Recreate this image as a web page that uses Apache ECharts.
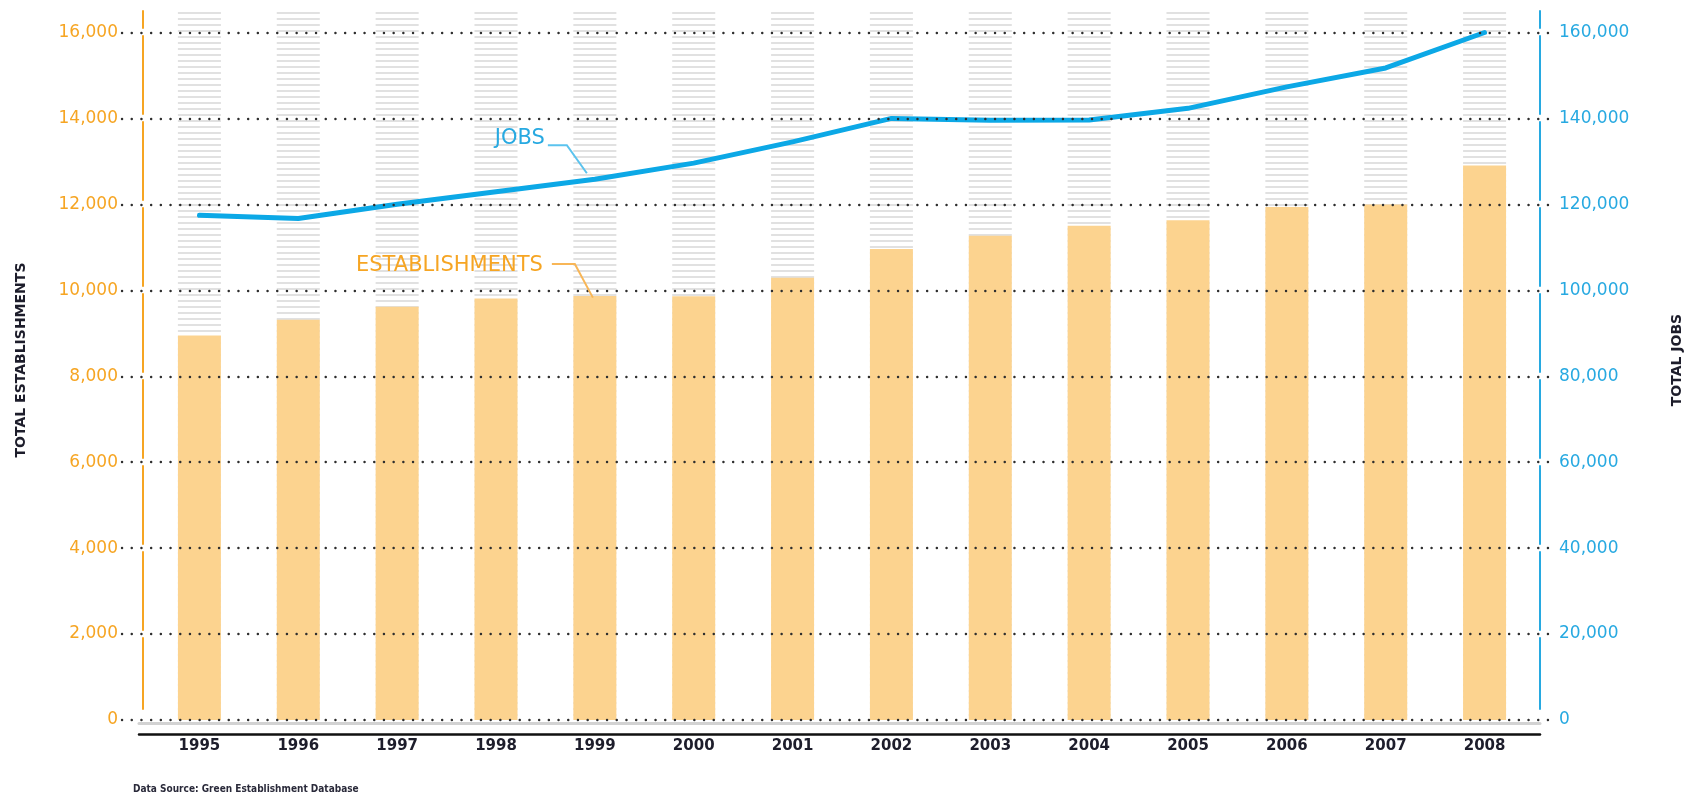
<!DOCTYPE html>
<html>
<head>
<meta charset="utf-8">
<title>Green establishments and jobs, 1995–2008</title>
<script src="https://cdn.jsdelivr.net/npm/echarts@6/dist/echarts.min.js"></script>
<style>
  html, body { margin: 0; padding: 0; background: #fff; }
  #chart { width: 1701px; height: 799px; }
</style>
</head>
<body>
<div id="chart"></div>
<script>
// values
const years = ['1995', '1996', '1997', '1998', '1999', '2000', '2001',
  '2002', '2003', '2004', '2005', '2006', '2007', '2008']
const establishments = [8950, 9315, 9615, 9810, 9865, 9860, 10295,
  10960, 11270, 11500, 11630, 11940, 12000, 12905]
const jobs = [117450, 116700, 120050, 122950, 125850, 129600, 134550,
  140000, 139550, 139650, 142350, 147350, 151750, 160000]

// axis ticks: 0..16,000 by 2,000 (left) and 0..160,000 by 20,000 (right)
const estMax = 16000
const estStep = 2000
const jobsMax = 160000
const jobsStep = 20000

const C = {
  bar: '#FCD38F',
  stripe: '#E1E1E1',
  line: '#0CA8E6',
  orange: '#F6A523',
  orangeLead: '#F8B657',
  blue: '#27A9E1',
  blueLead: '#5BC3EE',
  dots: '#2e2e2e',
  ink: '#1d1d2b'
}
const FONT = '"DejaVu Sans", sans-serif'

// plot frame: value 16,000 sits at PLOT_TOP, 0 at BASE; the striped
// columns behind the bars start a bit higher, at STRIPE_TOP
const PLOT_TOP = 32.5
const BASE = 720
const STRIPE_TOP = 10
const H = 799
const headroom = (BASE - STRIPE_TOP) / (BASE - PLOT_TOP)

function stripes() {
  const c = document.createElement('canvas')
  c.width = 8
  c.height = 6
  const g = c.getContext('2d')
  g.fillStyle = C.stripe
  g.fillRect(0, 0, 8, 2)
  return c
}

const noAxis = { axisLine: { show: false }, axisTick: { show: false }, axisLabel: { show: false }, splitLine: { show: false } }

// vertical frame lines are broken where each dotted rule crosses them
const frameDash = { type: [78, 8], dashOffset: 7, width: 2 }
const axisName = { color: C.ink, fontSize: 14, fontWeight: 'bold' }

const chart = echarts.init(document.getElementById('chart'))

chart.setOption({
  animation: false,
  backgroundColor: '#fff',
  textStyle: { fontFamily: FONT },
  title: {
    text: 'Data Source: Green Establishment Database',
    left: 128,
    top: 779,
    textStyle: { fontSize: 10, fontWeight: 'bold', color: '#2a2a3a', fontFamily: '"DejaVu Sans Condensed", sans-serif' }
  },
  grid: [
    // bars + jobs line
    { left: 150, right: 167, top: STRIPE_TOP, bottom: H - BASE, containLabel: false, outerBoundsMode: 'none' },
    // dotted rules + tick labels
    { left: 122, right: 151, top: PLOT_TOP, bottom: H - BASE, containLabel: false, outerBoundsMode: 'none' },
    // coloured frame lines, axis titles and the base rule
    { left: 139, right: 161, top: 11, bottom: 90, containLabel: false, outerBoundsMode: 'none' }
  ],
  xAxis: [
    {
      gridIndex: 0,
      type: 'category',
      data: years,
      axisLine: { show: false },
      axisTick: { show: false },
      axisLabel: { color: C.ink, fontSize: 15, fontWeight: 'bold', margin: 19 }
    },
    { gridIndex: 1, type: 'value', min: 0, max: 1, show: false },
    {
      gridIndex: 2, type: 'value', min: 0, max: 1, position: 'bottom', offset: 25,
      ...noAxis,
      axisLine: { show: true, onZero: false, lineStyle: { color: '#111', width: 2.5 } }
    },
    {
      gridIndex: 2, type: 'value', min: 0, max: 1, position: 'bottom', offset: 14,
      ...noAxis,
      axisLine: { show: true, onZero: false, lineStyle: { color: '#d2d2d2', width: 3 } }
    }
  ],
  yAxis: [
    { gridIndex: 0, type: 'value', min: 0, max: estMax * headroom, show: false },
    { gridIndex: 0, type: 'value', min: 0, max: jobsMax * headroom, show: false },
    {
      gridIndex: 1,
      type: 'value',
      position: 'left',
      min: 0,
      max: estMax,
      interval: estStep,
      z: 10,
      axisLine: { show: false, onZero: false },
      axisTick: { show: false },
      axisLabel: {
        color: C.orange,
        fontSize: 17,
        margin: 4,
        formatter: (v) => v.toLocaleString('en-US')
      },
      splitLine: {
        show: true,
        lineStyle: { color: C.dots, width: 2.4, type: [0.1, 9.6], cap: 'round' }
      }
    },
    {
      gridIndex: 1,
      type: 'value',
      position: 'right',
      min: 0,
      max: jobsMax,
      interval: jobsStep,
      z: 10,
      axisLine: { show: false, onZero: false },
      axisTick: { show: false },
      axisLabel: {
        color: C.blue,
        fontSize: 17,
        margin: 9,
        formatter: (v) => v.toLocaleString('en-US')
      },
      splitLine: { show: false }
    },
    {
      gridIndex: 2, type: 'value', min: 0, max: 1, position: 'left', offset: -4,
      ...noAxis,
      axisLine: { show: true, onZero: false, lineStyle: { color: C.orange, ...frameDash } },
      name: 'TOTAL ESTABLISHMENTS',
      nameLocation: 'middle',
      nameRotate: 90,
      nameGap: 115,
      nameTextStyle: axisName
    },
    {
      gridIndex: 2, type: 'value', min: 0, max: 1, position: 'right',
      ...noAxis,
      axisLine: { show: true, onZero: false, lineStyle: { color: C.blue, ...frameDash } },
      name: 'TOTAL JOBS',
      nameLocation: 'middle',
      nameRotate: 90,
      nameGap: 130,
      nameTextStyle: axisName
    }
  ],
  series: [
    {
      name: 'Establishments',
      type: 'bar',
      xAxisIndex: 0,
      yAxisIndex: 0,
      barWidth: 43,
      itemStyle: { color: C.bar },
      showBackground: true,
      backgroundStyle: { color: { image: stripes(), repeat: 'repeat' } },
      data: establishments
    },
    {
      name: 'Jobs',
      type: 'line',
      xAxisIndex: 0,
      yAxisIndex: 1,
      symbol: 'none',
      z: 3,
      lineStyle: { color: C.line, width: 5, cap: 'round', join: 'round' },
      data: jobs
    }
  ]
})

// series call-outs, hung off the 1999 points
const pJob = chart.convertToPixel({ seriesIndex: 1 }, [4, jobs[4]])
const pBar = chart.convertToPixel({ seriesIndex: 0 }, [4, establishments[4]])

function callout(p, text, color, lead, textOff, pts) {
  return [
    {
      type: 'text',
      x: p[0] + textOff[0],
      y: p[1] + textOff[1],
      z: 20,
      style: {
        text, fill: color, font: '21px ' + FONT,
        textAlign: 'right', textVerticalAlign: 'middle',
        align: 'right', verticalAlign: 'middle'
      }
    },
    {
      type: 'polyline',
      z: 20,
      shape: { points: pts.map(([dx, dy]) => [p[0] + dx, p[1] + dy]) },
      style: { stroke: lead, lineWidth: 2, fill: null }
    }
  ]
}

chart.setOption({
  graphic: [
    ...callout(pJob, 'JOBS', C.blue, C.blueLead, [-50, -41], [[-47, -34], [-28, -34], [-8, -6]]),
    ...callout(pBar, 'ESTABLISHMENTS', C.orange, C.orangeLead, [-52, -31], [[-43, -32], [-20, -32], [-2, 1.5]])
  ]
})
</script>
</body>
</html>
